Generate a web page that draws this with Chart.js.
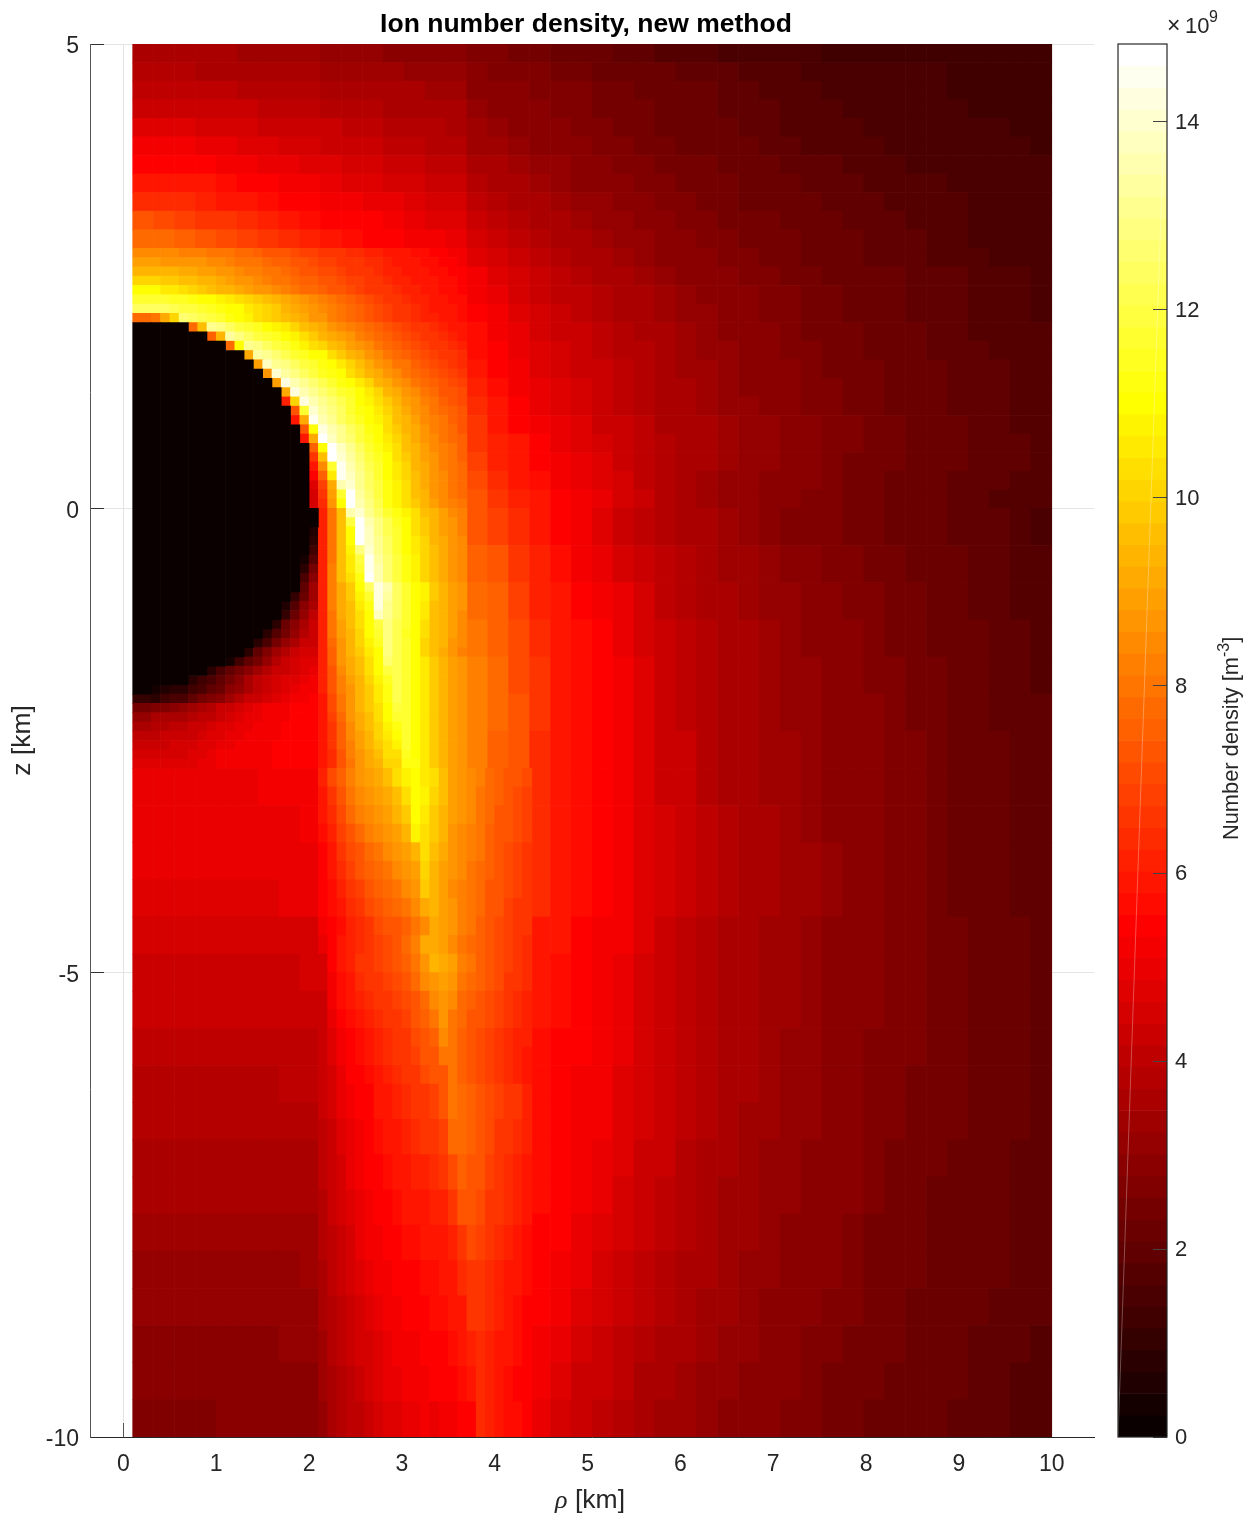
<!DOCTYPE html>
<html>
<head>
<meta charset="utf-8">
<title>Ion number density</title>
<script src="https://cdn.jsdelivr.net/npm/chart.js@4/dist/chart.umd.js"></script>
<style>
  html, body { margin: 0; background: #fff; }
  #wrap { position: relative; width: 1252px; height: 1520px; }
  canvas { position: absolute; top: 0; }
  #mapa { left: 0; }
  #barra { left: 1100px; }
</style>
</head>
<body>
<div id="wrap">
  <canvas id="mapa" width="1172" height="1520"></canvas>
  <canvas id="barra" width="152" height="1520"></canvas>
</div>
<script>
// all densities in units of 1e8 m^-3
// rows run from high z to low z, each row is right-aligned to its right edge

// rho 0.1..10 in 44 columns, z 5..2.8 in rows of 0.2
const upperRows = [
  [36,36,35,35,35,34,34,33,33,32,31,31,30,29,28,28,27,26,25,24,23,22,21,20,19,18,17,17,16,15,15,14,14,13,13,13,12,12,12,12,12,12,12,12],
  [38,38,38,37,37,36,36,35,35,34,34,33,33,32,32,31,28,27,26,26,25,24,23,22,22,21,20,20,19,18,18,17,16,16,15,15,14,14,14,13,13,13,12,12],
  [41,41,41,40,40,39,39,38,38,37,36,36,35,35,34,33,30,29,28,27,26,26,24,24,23,22,21,21,20,19,18,17,17,16,16,15,15,14,14,13,13,13,12,12],
  [44,44,44,43,43,42,41,41,40,39,39,38,37,37,36,35,31,30,29,28,27,26,25,24,24,23,22,21,20,20,19,18,17,17,16,16,15,14,14,14,13,13,13,12],
  [47,47,47,46,45,45,44,43,42,42,41,40,39,38,38,37,33,32,30,29,28,27,26,25,24,23,22,22,21,20,19,18,18,17,17,16,16,15,15,14,14,14,13,13],
  [51,51,51,50,49,48,47,46,45,44,43,42,41,40,39,38,34,33,31,30,29,28,27,26,25,24,23,23,22,21,20,19,18,18,17,17,16,15,15,15,14,14,14,13],
  [55,55,55,54,53,51,50,49,48,47,46,45,44,43,41,40,36,35,33,32,31,29,28,27,26,25,24,24,23,22,21,20,19,19,18,17,17,16,16,15,15,14,14,14],
  [60,60,59,58,56,55,54,52,51,50,48,47,46,45,44,42,38,36,35,33,32,30,29,28,27,26,25,25,24,23,22,21,20,20,19,18,18,17,17,16,16,15,15,14],
  [64,64,63,62,60,58,56,55,54,53,52,50,49,47,46,45,41,39,37,35,33,32,31,29,28,27,26,25,24,23,23,22,21,20,19,19,18,17,17,17,16,15,15,14],
  [72,71,69,67,65,63,61,59,56,55,55,54,52,50,48,47,43,41,39,37,35,34,32,31,29,28,27,26,25,24,24,23,22,21,20,19,19,18,18,17,16,16,15,15],
  [78,77,75,73,71,68,66,63,61,59,57,55,55,53,51,50,46,44,41,39,37,36,34,32,31,29,28,27,26,25,24,24,23,22,21,20,20,19,18,18,16,16,16,15]
];

// rho 3.7..10 in 28 columns, z 2.8..0 in rows of 0.2
const outerRows = [
  [48,45,43,40,38,36,35,33,31,30,29,28,27,26,25,24,23,22,21,20,20,19,18,18,17,16,16,15],
  [51,47,45,42,40,38,37,35,33,32,30,29,28,27,26,25,24,23,22,21,21,20,19,19,18,17,17,16],
  [53,49,46,43,41,40,38,36,35,33,31,30,29,28,27,26,25,24,23,22,21,20,19,19,18,17,17,16],
  [55,51,48,45,43,41,39,37,36,34,32,31,29,28,27,26,25,24,23,22,21,20,19,19,18,17,17,16],
  [56,52,49,46,44,42,40,38,37,35,33,32,30,29,28,27,25,24,24,23,22,21,20,19,18,18,17,17],
  [57,54,50,47,45,43,41,39,38,36,34,32,31,29,28,27,26,25,24,23,22,21,20,19,19,18,18,17],
  [59,55,52,48,46,44,42,40,38,36,34,33,31,30,29,28,26,25,25,24,23,22,21,20,19,19,18,17],
  [61,57,53,49,47,45,42,40,38,37,35,33,32,30,29,28,27,26,25,24,23,22,21,20,19,19,18,18],
  [63,58,54,50,48,45,43,41,39,37,35,34,32,31,30,29,27,26,25,24,23,22,21,20,19,19,18,18],
  [66,60,55,52,49,47,44,42,40,37,36,35,33,32,31,29,28,27,26,25,24,23,22,21,19,19,18,18],
  [67,62,58,55,50,48,46,43,40,38,37,35,33,32,31,29,28,27,26,25,24,23,22,21,20,19,19,18],
  [69,62,58,55,52,49,47,44,41,38,37,35,33,32,31,29,28,27,25,25,24,23,22,21,20,19,19,18],
  [70,64,59,56,53,50,48,45,41,38,36,34,32,31,30,29,28,26,25,24,23,22,21,20,19,19,18,17],
  [72,66,61,58,55,52,49,45,42,38,36,34,32,31,29,28,27,26,24,24,23,22,21,20,19,18,18,17]
];

// rho 3.7..10 in 28 columns, z 0..-2.8 in rows of 0.4
const sideRows = [
  [73,68,63,59,55,51,47,44,41,39,37,35,33,31,29,27,26,26,25,24,23,23,22,20,20,19,17,16],
  [76,72,66,61,57,53,50,46,43,40,38,36,34,33,31,29,28,27,26,25,24,23,22,21,20,19,18,17],
  [78,76,68,61,59,55,53,49,45,41,39,37,36,34,32,31,29,28,27,26,24,24,22,21,20,19,18,17],
  [80,76,70,63,59,56,54,50,46,42,40,38,36,35,33,31,30,29,28,26,25,24,23,22,21,20,19,18],
  [82,77,71,65,60,57,55,51,47,44,41,39,37,36,34,32,31,29,28,27,26,24,24,22,21,20,19,18],
  [82,77,72,65,60,57,55,51,47,44,41,39,37,36,34,32,31,30,29,28,26,25,24,22,21,20,20,19],
  [82,76,72,64,60,57,55,52,48,44,42,39,37,36,34,33,32,30,29,28,27,26,24,23,22,21,20,19]
];

// rho 0.1..10 in 44 columns, z -2.8..-10 in rows of 0.4
const lowerRows = [
  [50,50,50,50,50,50,51,51,52,60,72,84,90,97,107,100,83,76,72,64,60,57,55,52,48,44,42,39,37,36,34,33,32,30,29,28,27,26,24,23,22,21,20,19],
  [50,50,50,50,50,50,50,50,51,57,66,76,85,92,100,96,83,77,72,64,60,57,55,52,48,45,42,40,38,36,35,33,32,30,29,29,27,26,25,23,22,21,20,20],
  [50,50,50,50,50,50,50,50,50,55,62,71,80,87,95,93,83,78,71,64,60,57,55,52,48,45,42,40,38,37,35,34,33,31,30,29,27,26,25,23,22,21,20,20],
  [48,48,48,48,48,48,48,49,49,54,60,66,73,80,90,92,81,76,69,63,59,57,55,52,48,45,42,40,38,37,35,34,33,31,30,29,27,26,25,23,22,21,20,20],
  [45,45,45,45,45,45,45,46,46,52,57,62,68,73,82,90,78,73,65,60,58,55,53,51,47,44,41,39,37,36,34,33,32,30,29,28,27,26,25,24,23,22,21,20],
  [44,44,44,44,44,44,44,44,45,50,55,59,63,67,73,86,76,70,62,58,56,54,52,50,46,43,41,39,37,36,34,33,32,30,29,28,27,26,25,24,23,22,21,20],
  [42,42,42,42,42,42,42,42,42,49,53,57,60,64,70,80,74,69,62,58,56,54,52,49,46,43,41,39,37,36,34,33,32,30,29,28,27,26,25,24,23,22,21,20],
  [41,41,41,41,41,41,41,41,41,47,51,55,58,62,67,74,72,67,61,57,55,54,52,49,45,43,41,39,36,35,34,32,31,30,28,27,27,26,25,24,23,22,21,20],
  [39,39,39,39,39,39,39,40,40,46,50,54,57,60,64,70,71,66,61,57,55,53,51,48,45,43,40,38,36,35,33,32,31,30,28,27,26,25,25,24,23,22,21,20],
  [38,38,38,38,38,38,38,38,38,42,50,55,59,64,68,76,69,65,60,56,55,53,51,48,45,42,40,38,35,34,33,32,31,29,28,27,26,25,24,24,23,22,21,20],
  [37,37,37,37,37,37,37,37,37,41,48,53,57,62,64,73,67,63,59,56,54,52,50,47,44,42,39,37,35,34,32,31,30,29,28,26,25,24,24,23,22,21,20,20],
  [35,35,35,35,35,35,35,35,36,39,47,52,55,60,60,70,66,62,59,56,54,51,49,46,43,41,38,36,34,33,32,31,30,29,28,26,25,24,23,23,22,21,20,20],
  [34,34,34,34,34,34,34,34,34,38,45,50,53,57,58,65,65,61,58,55,54,50,48,45,42,40,38,36,34,33,31,30,29,28,27,25,24,24,23,22,22,21,20,19],
  [32,32,32,32,32,32,32,32,33,36,42,47,51,54,56,61,64,60,57,54,52,49,46,44,41,39,37,35,33,32,31,30,29,28,27,25,24,24,23,22,22,21,20,19],
  [32,32,32,32,32,32,32,32,32,35,41,46,50,53,55,58,64,60,56,54,51,47,45,43,40,38,36,34,33,32,30,29,28,27,26,25,24,23,22,22,21,20,19,19],
  [30,30,30,30,30,30,30,31,31,34,40,44,48,52,55,55,63,59,55,53,49,46,44,41,39,37,35,33,32,31,30,29,27,26,25,24,24,23,22,21,20,19,19,18],
  [30,30,30,30,30,30,30,30,30,33,39,43,47,50,53,54,62,58,55,51,47,44,42,40,37,35,34,32,31,30,29,28,26,25,25,24,23,22,21,21,20,19,18,18],
  [27,27,27,27,28,28,28,30,30,32,38,42,46,49,51,52,62,57,55,50,46,43,41,38,36,34,33,32,30,29,28,27,26,25,24,23,22,22,21,20,20,19,18,17]
];

// fine cells of 0.1 km, ending at rho 3.7, z 2.8..0
const ringRows = [
  [85,85,85,84,84,83,83,82,81,80,79,78,77,76,74,73,72,71,69,68,67,66,65,64,63,62,61,60,59,58,57,56,55,54,53,52],
  [89,89,89,88,88,87,87,86,85,84,83,81,80,79,77,76,75,73,72,71,69,68,67,66,65,64,63,61,60,59,58,57,56,55,54,53],
  [95,95,94,93,93,92,91,90,89,88,86,85,83,82,80,79,77,76,74,73,71,70,69,67,66,65,63,62,61,60,59,58,57,56,55,54],
  [101,101,100,99,98,97,96,95,93,92,90,88,86,85,83,81,80,78,76,75,73,72,70,69,68,66,65,64,62,61,60,59,58,57,56,54],
  [111,111,111,105,105,102,100,99,97,95,94,92,90,88,86,84,82,80,78,77,75,73,72,70,69,67,66,65,63,62,61,60,58,57,56,55],
  [116,116,116,116,115,114,113,111,109,107,105,103,101,99,97,95,92,89,87,84,82,80,77,75,73,71,69,67,65,64,62,61,59,58,57,56],
  [124,124,124,123,122,120,119,117,115,113,111,110,106,103,100,98,95,92,90,87,85,82,79,77,75,72,70,68,66,65,63,62,60,59,58,57],
  [78,78,80,92,100,127,125,122,120,116,112,110,108,104,101,99,96,93,91,88,86,83,80,78,75,73,71,69,67,65,64,62,61,60,58,57],
  [78,96,132,128,124,120,117,114,111,108,105,100,97,94,91,88,85,82,80,77,75,72,70,68,66,65,63,62,60,59],
  [76,95,134,128,124,120,117,114,111,107,102,98,95,92,89,86,83,80,78,75,73,71,69,67,65,64,62,60],
  [78,110,132,128,124,120,116,112,108,104,100,96,93,90,87,84,81,78,76,73,71,69,67,65,64,62],
  [92,133,130,126,122,118,114,110,110,104,99,95,91,88,85,81,78,76,73,71,69,67,65,63],
  [90,137,132,128,124,120,116,112,110,105,100,96,92,88,84,81,79,76,73,71,69,67,64],
  [88,140,133,128,124,120,115,112,110,104,99,95,91,87,84,81,78,75,73,71,68,66],
  [90,142,135,130,126,122,117,113,110,106,100,95,91,88,84,80,78,75,72,70,68],
  [92,142,135,131,127,122,118,114,110,106,100,95,91,87,84,80,77,74,72,70],
  [62,100,142,136,130,126,121,116,111,108,103,98,94,90,86,82,79,76,73,71],
  [72,118,140,134,128,123,118,113,110,105,100,96,92,88,84,81,78,75,72],
  [60,92,145,136,130,125,120,115,111,107,102,97,93,89,85,82,79,76,73],
  [72,111,143,136,130,125,119,113,110,104,99,95,91,87,83,80,77,74],
  [60,92,147,138,132,126,120,114,111,106,101,96,92,88,84,81,78,75],
  [75,111,146,137,130,124,117,112,108,102,97,93,89,85,82,79,76],
  [65,96,147,140,133,126,120,114,110,104,99,94,90,86,82,79,76],
  [58,85,118,145,136,128,122,116,111,105,100,95,91,87,83,80,77],
  [55,75,105,144,138,130,124,118,111,106,101,96,92,87,84,81,78],
  [48,68,92,135,141,132,125,119,112,107,102,97,92,88,84,81,78],
  [46,65,90,118,147,134,127,120,112,107,102,97,93,88,85,81,78],
  [46,63,88,110,147,136,128,121,113,108,103,98,93,89,85,82,79]
];

// fine cells of 0.1 km, ending at rho 3.7, z 0..-2.8
const wakeRows = [
  [1,62,80,97,135,140,130,124,117,112,107,102,97,93,89,85,82],
  [2,62,80,96,120,146,135,128,122,115,110,103,98,94,90,86,83],
  [5,62,80,96,111,147,137,129,122,116,110,104,99,94,90,87,83],
  [8,62,80,96,111,147,138,130,123,117,111,105,100,95,91,87,84],
  [13,62,80,96,108,128,140,132,125,118,111,106,101,96,92,88,85],
  [3,18,62,80,96,105,120,144,134,126,119,112,107,101,96,92,88,85],
  [9,25,62,82,97,105,116,145,135,127,120,113,107,101,96,92,88,85],
  [15,30,62,82,97,103,112,146,136,127,120,113,107,101,96,92,88,85],
  [19,34,62,83,91,98,111,125,142,135,125,117,111,107,98,94,90,86],
  [11,23,34,62,83,91,98,108,118,142,134,125,117,111,107,98,94,90,86],
  [5,17,30,37,62,82,91,97,105,113,142,132,124,116,111,106,97,94,90,86],
  [11,22,32,40,62,80,91,97,103,111,137,130,123,116,111,105,97,94,90,85],
  [9,21,28,36,43,62,80,90,96,102,110,120,128,122,116,111,103,97,93,89,84],
  [7,17,25,32,39,44,62,80,90,95,101,111,116,128,122,115,111,103,97,93,89,84],
  [7,15,24,32,37,42,44,62,78,88,94,100,108,114,128,122,116,111,101,96,93,88,84],
  [9,19,27,34,38,42,45,45,62,76,87,93,98,106,111,128,122,116,111,100,96,92,88,83],
  [4,13,19,25,32,38,42,45,47,48,62,76,86,92,97,103,111,126,122,117,111,106,99,95,90,87],
  [8,14,19,24,29,33,38,42,44,46,48,50,62,74,84,91,96,102,110,120,122,116,111,106,99,95,90,87],
  [7,13,16,19,25,30,35,40,43,45,47,48,50,52,62,72,83,90,95,100,108,115,122,116,111,106,99,95,90,87],
  [4,5,7,9,13,16,19,23,28,32,36,41,44,46,48,50,51,53,62,72,82,88,94,99,106,113,121,116,111,106,99,95,90,87],
  [10,10,9,13,14,16,19,24,27,30,33,38,42,44,46,48,50,51,52,55,60,70,81,88,94,98,105,113,121,116,111,106,99,95,90,87],
  [24,24,27,27,30,31,33,36,39,42,44,46,48,50,51,52,53,54,55,55,60,70,80,87,93,98,103,111,120,116,111,106,99,95,90,87],
  [32,32,35,35,36,37,39,40,41,44,46,47,49,50,51,52,53,54,55,55,60,68,78,86,92,97,102,110,116,116,111,106,99,95,90,87],
  [36,36,39,39,41,41,43,44,46,47,48,49,50,51,52,53,54,55,55,55,60,66,76,85,91,96,101,108,113,116,111,106,99,95,90,87],
  [40,40,40,42,42,42,44,45,47,47,49,50,51,52,53,53,54,55,55,55,60,66,75,84,90,95,100,106,110,116,111,106,99,95,90,87],
  [43,43,43,43,46,46,46,48,48,50,50,51,52,53,53,54,54,55,55,55,60,65,75,83,89,93,98,104,108,116,111,106,99,95,90,87],
  [46,46,46,46,46,46,47,48,49,51,51,52,52,53,53,54,54,55,55,55,60,64,72,82,88,92,96,102,104,115,111,106,99,95,90,87],
  [47,47,47,47,47,47,48,49,50,51,51,52,52,52,53,54,54,55,55,55,60,64,72,81,87,91,95,100,100,112,112,106,99,95,90,87]
];

// fine columns of 0.1 km ending at rho 4.4, z -2.8..-6.2 in rows of 0.2
const plumeRows = [
  [62,70,76,82,87,90,92,96,103,108,111,105,102,97,90,87,85,83,78,76,74,72,70],
  [60,66,72,80,84,87,90,92,96,102,111,107,100,96,90,87,84,80,78,75,73,71,69],
  [58,64,70,77,82,85,87,89,94,98,111,106,99,95,89,86,84,80,77,74,72,70,68],
  [56,62,68,74,78,82,84,87,90,94,108,104,98,93,88,85,83,79,76,74,72,70,68],
  [55,60,65,71,74,78,80,84,87,90,95,102,97,92,87,85,82,79,76,73,71,69,67],
  [55,58,63,68,72,75,78,80,84,87,90,100,95,90,86,84,81,78,75,72,70,68,66],
  [55,57,61,65,69,73,76,78,80,84,87,98,93,89,85,83,80,77,74,72,70,68,66],
  [54,56,59,63,67,70,72,75,77,80,84,92,95,90,86,83,80,77,74,72,69,67,65],
  [52,55,57,61,64,67,70,72,73,76,80,85,92,90,86,83,79,76,73,71,69,67,65],
  [49,55,58,61,64,66,68,70,73,78,82,91,92,90,85,81,78,75,73,70,68,66,64],
  [46,55,59,62,65,67,69,71,73,76,80,88,95,92,90,83,80,76,73,70,68,66,64],
  [45,53,57,60,63,65,67,69,71,74,77,84,86,90,87,80,78,75,72,70,67,65,63],
  [44,52,56,58,61,63,65,67,69,71,74,78,84,88,84,78,76,73,71,68,66,64,62],
  [44,50,55,57,59,61,63,65,67,69,72,76,80,86,81,77,74,72,70,68,66,64,62],
  [43,48,53,55,57,59,61,63,65,67,70,74,76,84,80,76,73,71,69,66,64,62,61],
  [43,47,52,55,57,59,61,63,65,67,69,72,74,80,80,75,73,70,68,66,64,62,60],
  [43,46,50,54,55,57,60,62,64,65,67,70,72,74,80,75,73,71,68,65,63,61,60]
];

// same columns, z -6.2..-10 in rows of 0.38
const plumeDeepRows = [
  [43,45,49,52,55,55,58,60,62,64,65,67,69,72,80,78,76,74,71,68,67,65,62],
  [41,44,47,50,53,55,56,58,60,62,63,65,66,68,78,77,75,73,70,67,65,63,61],
  [40,44,46,49,52,54,55,57,58,60,61,62,64,65,70,76,74,72,68,66,64,62,60],
  [39,43,45,48,50,52,54,55,56,58,59,60,61,62,65,73,73,71,67,65,63,61,59],
  [38,41,44,46,49,51,53,54,55,56,57,58,59,60,62,67,70,68,65,63,61,59,57],
  [37,40,43,45,47,49,51,53,54,55,55,56,57,58,60,63,67,67,64,62,60,58,56],
  [36,39,41,44,46,48,50,51,53,54,55,55,56,57,58,60,65,65,63,61,59,57,55],
  [34,38,40,43,45,46,48,50,51,52,53,54,55,55,56,58,62,64,62,60,58,56,55],
  [33,37,39,41,44,45,47,49,50,51,52,53,54,55,55,56,58,64,61,59,57,55,54],
  [32,37,38,40,41,44,46,47,48,49,50,51,50,51,53,55,55,63,61,58,56,56,54]
];

// the empty disc: one entry per 0.1 km column from rho 0.1
const holeTop =    [2,2,2,2,2,2,1.9,1.9,1.8,1.8,1.7,1.7,1.6,1.5,1.4,1.3,1.1,0.9,0.7,0];
const holeBottom = [-2,-2,-1.9,-1.9,-1.9,-1.9,-1.8,-1.8,-1.7,-1.7,-1.6,-1.6,-1.5,-1.4,-1.3,-1.2,-1,-0.9,-0.5,-0.2];

const xTicks = [0,1,2,3,4,5,6,7,8,9,10];
const yTicks = [-10,-5,0,5];
const barTicks = [0,2,4,6,8,10,12,14];
const barMax = 148.3;
const nivelesColor = 64;

const INK = '#262626';
const PX_KM = 92.85;

// matlab "hot" with 64 levels
function colorHot(nivel) {
    const k = nivel + 1;
    const r = Math.min(1, k / 24);
    const g = Math.max(0, Math.min(1, (k - 24) / 24));
    const b = Math.max(0, Math.min(1, (k - 48) / 16));
    return `rgb(${Math.round(r * 255)},${Math.round(g * 255)},${Math.round(b * 255)})`;
}

function colorValor(v) {
    return colorHot(Math.min(nivelesColor - 1, Math.floor(v / barMax * nivelesColor)));
}

// turn rows into floating bars, right-aligned to rhoRight
function datasetCeldas(filas, zTop, dz, rhoRight, drho) {
    const data = [], colors = [];
    filas.forEach((fila, i) => {
        fila.forEach((v, j) => {
            data.push({
                x: rhoRight - (fila.length - j - 0.5) * drho,
                y: [zTop - (i + 1) * dz, zTop - i * dz]
            });
            colors.push(colorValor(v));
        });
    });
    return {
        data: data,
        backgroundColor: colors,
        barThickness: drho * PX_KM,
        base: -100,   // otherwise bars starting at z=0 leave room for the grid line
        stack: 'mapa'
    };
}

const holeData = holeTop.map((top, i) => ({ x: 0.15 + i * 0.1, y: [holeBottom[i], top] }));

// chart.js paints the first dataset last, so the fine cells go before the coarse ones
const datasetsMapa = [
    { data: holeData, backgroundColor: colorHot(0), barThickness: 0.1 * PX_KM, base: -100, stack: 'mapa' },
    datasetCeldas(plumeDeepRows, -6.2, 0.38, 4.4, 0.1),
    datasetCeldas(plumeRows, -2.8, 0.2, 4.4, 0.1),
    datasetCeldas(wakeRows, 0, 0.1, 3.7, 0.1),
    datasetCeldas(ringRows, 2.8, 0.1, 3.7, 0.1),
    datasetCeldas(lowerRows, -2.8, 0.4, 10, 0.225),
    datasetCeldas(sideRows, 0, 0.4, 10, 0.225),
    datasetCeldas(outerRows, 2.8, 0.2, 10, 0.225),
    datasetCeldas(upperRows, 5, 0.2, 10, 0.225)
];

// rho label has mixed fonts, so it goes by hand under the axis
const etiquetaRho = {
    id: 'etiquetaRho',
    afterDraw(chart) {
        const ctx = chart.ctx;
        ctx.save();
        ctx.fillStyle = INK;
        ctx.textBaseline = 'alphabetic';
        ctx.font = 'italic 26px "Liberation Serif"';
        ctx.fillText('ρ', 555, 1508);
        ctx.font = '26.5px "Liberation Sans"';
        ctx.fillText('[km]', 575, 1508);
        ctx.restore();
    }
};

new Chart(document.getElementById('mapa'), {
    type: 'bar',
    data: { datasets: datasetsMapa },
    plugins: [etiquetaRho],
    options: {
        responsive: false,
        animation: false,
        events: [],
        plugins: {
            legend: { display: false },
            tooltip: { enabled: false },
            title: {
                display: true,
                text: 'Ion number density, new method',
                color: '#000',
                font: { family: '"Liberation Sans"', size: 26.5, weight: 'bold' },
                padding: { top: 8.6, bottom: 3.6 }
            }
        },
        layout: { padding: 0 },
        scales: {
            x: {
                type: 'linear',
                stacked: true,
                offset: false,
                min: -0.36,
                max: 10.455,
                afterFit: s => { s.height = 83; },
                afterBuildTicks: s => { s.ticks = xTicks.map(v => ({ value: v })); },
                border: { color: INK },
                grid: { color: '#e4e4e4', tickColor: '#555', tickLength: -14, offset: false },
                ticks: { color: INK, font: { family: '"Liberation Sans"', size: 23 }, padding: 28, maxRotation: 0, autoSkip: false }
            },
            y: {
                stacked: false,
                min: -10,
                max: 5,
                afterFit: s => { s.width = 90; },
                afterBuildTicks: s => { s.ticks = yTicks.map(v => ({ value: v })); },
                border: { color: '#555' },
                grid: { color: '#e4e4e4', tickColor: '#333', tickLength: -14 },
                ticks: { color: INK, font: { family: '"Liberation Sans"', size: 23 }, padding: 25, labelOffset: 3, autoSkip: false },
                title: {
                    display: true,
                    text: 'z [km]',
                    color: INK,
                    font: { family: '"Liberation Sans"', size: 26.5 },
                    padding: { top: 7, bottom: 0 }
                }
            },
            // empty right-hand axis, keeps the title centred on the data and not on the axes
            margen: {
                position: 'right',
                afterFit: s => { s.width = 78; },
                border: { display: false },
                grid: { display: false },
                ticks: { display: false }
            }
        }
    }
});

// colorbar: one floating bar per level of the map
const nivelesBarra = [];
for (let i = 0; i < nivelesColor; i++) nivelesBarra.push(i);

const etiquetasBarra = {
    id: 'etiquetasBarra',
    afterDraw(chart) {
        const ctx = chart.ctx;
        const a = chart.chartArea;
        ctx.save();
        ctx.strokeStyle = INK;
        ctx.lineWidth = 1.2;
        ctx.strokeRect(a.left, a.top, a.right - a.left, a.bottom - a.top);
        ctx.fillStyle = INK;
        ctx.textBaseline = 'alphabetic';
        ctx.font = '23px "Liberation Sans"';
        ctx.fillText('×', 67, 33);
        ctx.font = '22px "Liberation Sans"';
        ctx.fillText('10', 85, 33);
        ctx.font = '16px "Liberation Sans"';
        ctx.fillText('9', 109, 22);
        ctx.translate(138, 840);
        ctx.rotate(-Math.PI / 2);
        ctx.font = '21.8px "Liberation Sans"';
        ctx.fillText('Number density [m', 0, 0);
        let x = ctx.measureText('Number density [m').width;
        ctx.font = '16px "Liberation Sans"';
        ctx.fillText('-3', x, -9);
        x += ctx.measureText('-3').width;
        ctx.font = '21.8px "Liberation Sans"';
        ctx.fillText(']', x, 0);
        ctx.restore();
    }
};

new Chart(document.getElementById('barra'), {
    data: {
        datasets: [
            {
                type: 'line',
                data: [{ x: 0, y: 0 }, { x: 1, y: barMax / 10 }],
                borderColor: 'rgba(255,255,255,0.3)',
                borderWidth: 1,
                pointRadius: 0
            },
            {
                type: 'bar',
                data: nivelesBarra.map(n => ({
                    x: 0.5,
                    y: [n * barMax / nivelesColor / 10, (n + 1) * barMax / nivelesColor / 10]
                })),
                backgroundColor: nivelesBarra.map(colorHot),
                barThickness: 49,
                base: -100
            }
        ]
    },
    plugins: [etiquetasBarra],
    options: {
        responsive: false,
        animation: false,
        events: [],
        plugins: { legend: { display: false }, tooltip: { enabled: false } },
        layout: { padding: { left: 18, right: 0, top: 44, bottom: 83 } },
        scales: {
            x: { type: 'linear', offset: false, min: 0, max: 1, display: false },
            y: {
                position: 'right',
                min: 0,
                max: barMax / 10,
                afterFit: s => { s.width = 85; },
                afterBuildTicks: s => { s.ticks = barTicks.map(v => ({ value: v })); },
                border: { display: false },
                grid: { drawOnChartArea: false, z: 1, tickColor: '#444', tickLength: -14 },
                ticks: { color: INK, font: { family: '"Liberation Sans"', size: 22 }, padding: 22, labelOffset: 1, autoSkip: false }
            }
        }
    }
});
</script>
</body>
</html>
